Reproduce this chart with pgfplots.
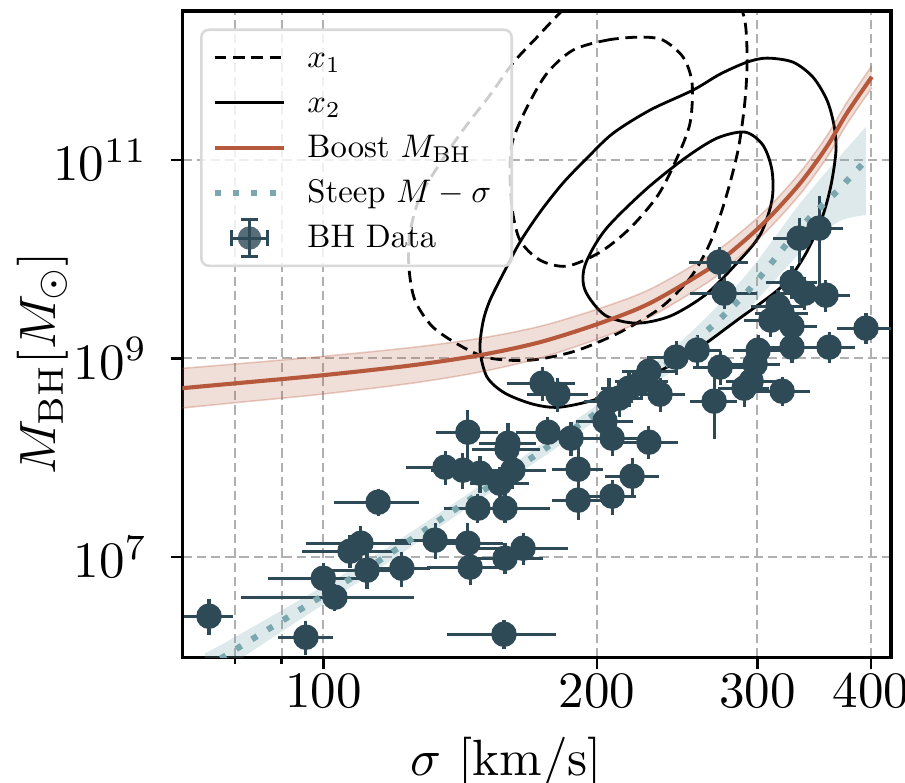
\documentclass[border=0pt]{standalone}
\usepackage{pgfplots}
\pgfplotsset{compat=1.18}
\usepgfplotslibrary{fillbetween}
\definecolor{datac}{HTML}{2E4A56}
\definecolor{boost}{HTML}{B5583B}
\definecolor{steep}{HTML}{7BA7AE}
\definecolor{gridc}{HTML}{B0B0B0}
\newcommand{\legtxt}[1]{\scalebox{0.64}{\strut #1}}
\begin{document}
\begin{tikzpicture}
\begin{axis}[
  scale only axis, width=138.9pt, height=126.7pt,
  xmode=log, ymode=log,
  xmin=70, xmax=420.8, ymin=9.65e5, ymax=3.18e12,
  xtick={100,200,300,400}, xticklabels={$100$,$200$,$300$,$400$},
  minor xtick={80,90},
  ytick={1e7,1e9,1e11}, yminorticks=false,
  grid=both,
  major grid style={gridc, line width=0.4pt, dash pattern=on 1.8pt off 1pt},
  minor grid style={gridc, line width=0.4pt, dash pattern=on 1.8pt off 1pt},
  tick align=outside, tick pos=left,
  major tick length=2.3pt, minor tick length=1.2pt,
  every tick/.style={black, line width=0.5pt},
  axis line style={line width=0.65pt},
  xticklabel style={yshift=2.4pt},
  yticklabel style={xshift=-1pt},
  xlabel={$\sigma\ [\mathrm{km/s}]$},
  ylabel={$M_{\rm BH}[M_\odot]$},
  xlabel style={at={(axis description cs:0.457,-0.162)}, anchor=center},
  ylabel style={at={(axis description cs:-0.1975,0.455)}, anchor=center},
  legend cell align=left,
  legend style={at={(axis description cs:0.025,0.973)}, anchor=north west,
    draw=black!15, line width=0.5pt, rounded corners=1.5pt, fill=white,
    fill opacity=0.8, text opacity=1, font=\normalsize,
    inner xsep=2pt, inner ysep=1.5pt, row sep=0.97pt,
    nodes={inner xsep=2pt, inner ysep=0.5pt}},
  legend image code/.code={\draw[#1] (0pt,0pt) -- (13.7pt,0pt); \path[draw=none] (0pt,-1pt) (16.2pt,1pt);},
]
\addlegendimage{black, line width=0.55pt, dash pattern=on 2.3pt off 1.3pt}
\addlegendentry{\legtxt{$x_1$}}
\addlegendimage{black, line width=0.55pt}
\addlegendentry{\legtxt{$x_2$}}
\addlegendimage{boost, line width=0.8pt}
\addlegendentry{\legtxt{Boost $M_{\rm BH}$}}
\addlegendimage{steep, line width=1.2pt, dash pattern=on 1.2pt off 2.4pt}
\addlegendentry{\legtxt{Steep $M-\sigma$}}
\addlegendimage{legend image code/.code={
  \pgfinterruptboundingbox
  \draw[datac, line width=0.6pt] (6.85pt,-3.6pt)--(6.85pt,3.6pt) (3.25pt,0pt)--(10.45pt,0pt)
   (5.25pt,-3.6pt)--(8.45pt,-3.6pt) (5.25pt,3.6pt)--(8.45pt,3.6pt)
   (3.25pt,-1.6pt)--(3.25pt,1.6pt) (10.45pt,-1.6pt)--(10.45pt,1.6pt);
  \path[fill=datac, draw=none] (6.85pt,0pt) circle (2.3pt);
  \endpgfinterruptboundingbox
  \path[draw=none] (0pt,-1pt) (16.2pt,1pt);}}
\addlegendentry{\legtxt{BH Data}}

% contours x1 (dashed)
\addplot[black, line width=0.55pt, dash pattern=on 2.3pt off 1.3pt, smooth cycle, forget plot] coordinates {
(234.5,1.04e13) (273.0,7.33e12) (289.3,3.03e12) (292.3,1.143e12) (290.8,4.02e11) (285.7,1.259e11) (276.5,3.945e10) (266.1,1.453e10) (253.0,6.45e9) (234.5,3.21e9) (212.0,1.841e9) (189.1,1.184e9) (168.8,9.60e8) (152.5,1.006e9) (142.4,1.299e9) (132.0,2.067e9) (126.1,3.869e9) (124.2,8.32e9) (124.5,1.833e10) (127.7,4.23e10) (134.4,9.31e10) (143.2,2.149e11) (152.5,4.52e11) (161.6,9.49e11) (171.8,1.736e12) (182.0,3.03e12) (201.5,7.33e12)
};
\addplot[black, line width=0.55pt, dash pattern=on 2.3pt off 1.3pt, smooth cycle, forget plot] coordinates {
(188.2,1.284e12) (205.1,1.619e12) (222.9,1.736e12) (236.2,1.619e12) (248.6,1.091e12) (254.3,5.965e11) (253.0,2.357e11) (244.2,9.98e10) (233.3,4.43e10) (217.4,2.058e10) (201.5,1.179e10) (185.3,8.52e9) (173.1,9.79e9) (164.5,1.558e10) (161.2,3.35e10) (160.4,8.48e10) (161.6,1.588e11) (167.5,3.42e11) (176.2,7.52e11)
};
% contours x2 (solid)
\addplot[black, line width=0.55pt, smooth cycle, forget plot] coordinates {
(292.3,9.71e11) (307.4,1.066e12) (328.3,9.71e11) (345.3,6.86e11) (357.8,4.02e11) (364.2,2.250e11) (366.1,1.259e11) (361.5,5.59e10) (353.3,2.596e10) (338.4,1.100e10) (319.4,5.35e9) (285.0,2.431e9) (253.0,1.104e9) (225.8,6.32e8) (201.5,3.98e8) (182.0,3.225e8) (170.1,3.457e8) (158.4,4.46e8) (151.4,6.47e8) (148.7,1.211e9) (149.8,2.320e9) (152.5,3.869e9) (158.4,7.76e9) (164.5,1.487e10) (173.1,2.985e10) (183.4,5.85e10) (195.4,1.070e11) (208.3,1.868e11) (228.6,3.187e11) (254.9,5.07e11) (273.0,7.35e11)
};
\addplot[black, line width=0.55pt, smooth cycle, forget plot] coordinates {
(270.9,1.663e11) (290.8,1.912e11) (304.3,1.414e11) (311.3,7.91e10) (311.3,3.945e10) (302.0,1.750e10) (283.5,8.71e9) (262.8,4.345e9) (240.5,2.668e9) (220.7,2.267e9) (204.0,2.731e9) (194.0,4.88e9) (194.0,8.71e9) (204.0,1.965e10) (225.8,4.97e10) (249.8,1.046e11)
};

% Boost band and line
\addplot[name path=bu, boost, draw opacity=0.3, line width=0.3pt, smooth, forget plot] coordinates {
(70,7.95e8) (80.4,8.82e8) (100,1.050e9) (125.5,1.294e9) (148.7,1.596e9) (173.1,2.108e9) (201.5,3.203e9) (228.6,4.978e9) (263.9,1.047e10) (282.3,1.628e10) (307.2,3.193e10) (334.2,7.48e10) (357.6,1.750e11) (376.2,3.802e11) (400.8,8.89e11)
};
\addplot[name path=bl, boost, draw opacity=0.3, line width=0.3pt, smooth, forget plot] coordinates {
(70,3.163e8) (80.4,3.593e8) (100,4.377e8) (125.5,5.647e8) (148.7,7.296e8) (173.1,1.010e9) (201.5,1.604e9) (228.6,2.614e9) (263.9,5.752e9) (282.3,9.37e9) (307.2,1.925e10) (334.2,4.511e10) (357.6,1.055e11) (376.2,2.292e11) (400.8,5.362e11)
};
\addplot[fill=boost, fill opacity=0.2, draw=none, forget plot] fill between[of=bu and bl];
\addplot[boost, line width=0.8pt, smooth, forget plot] coordinates {
(70,5.013e8) (80.4,5.63e8) (100,6.78e8) (125.5,8.55e8) (148.7,1.079e9) (173.1,1.459e9) (201.5,2.267e9) (228.6,3.607e9) (263.9,7.76e9) (282.3,1.235e10) (307.2,2.479e10) (334.2,5.81e10) (357.6,1.359e11) (376.2,2.952e11) (400.8,6.906e11)
};

% BH data
\addplot[only marks, mark=*, mark size=2.3pt, color=datac, mark options={fill=datac, draw=datac}, forget plot,
  error bars/.cd, x dir=both, x explicit, y dir=both, y explicit,
  error bar style={line width=0.6pt, datac},
  error mark options={line width=0.6pt, mark size=1.75pt, datac}]
table[x=x, y=y, x error=ex, y error=ey] {
x y ex ey
74.9 2.518e6 3.0 5e5
95.7 1.546e6 4.4 3e5
158.0 1.658e6 18 2e5
103.0 3.913e6 20 4e5
100.0 6.08e6 11 1e6
110.0 1.371e7 12 3e6
107.0 1.139e7 10 2e6
111.7 7.33e6 10 1.5e6
114.9 3.553e7 9.7 4e6
122.0 7.67e6 6 1.5e6
132.7 1.471e7 10 3e6
144.2 1.371e7 10 4e6
145.0 7.86e6 12 1.5e6
158.4 9.68e6 12 1.5e6
165.8 1.221e7 16 2e6
147.9 3.091e7 9 4e6
158.4 3.091e7 15 4e6
144.2 1.805e8 8 6.3e7
159.6 1.398e8 8 4e7
136.1 8.01e7 10 1.5e7
142.4 7.47e7 8 1.5e7
148.7 6.97e7 8 1.5e7
156.4 5.52e7 8 1e7
161.6 7.47e7 10 1.5e7
174.0 5.63e8 11 1e8
181.1 4.36e8 10 8e7
159.2 1.216e8 10 2.5e7
176.6 1.805e8 10 3e7
187.2 1.570e8 10 3e7
204.0 2.330e8 10 5e7
207.7 1.570e8 10 3e7
228.0 1.431e8 12 2.5e7
190.6 7.64e7 8 3e7
218.5 6.50e7 10 1.5e7
207.7 4.085e7 8 8e6
190.6 3.722e7 8 8e6
206.1 3.709e8 8 1.5e8
211.4 3.975e8 8 8e7
216.8 5.013e8 10 1e8
224.0 5.90e8 10 1e8
228.0 7.44e8 10 1.2e8
234.5 4.36e8 10 8e7
244.2 1.030e9 12 2e8
257.6 1.211e9 10 2e8
268.9 3.709e8 10 1.8e8
273.0 8.17e8 12 1.5e8
290.1 5.013e8 12 1e8
295.3 5.90e8 12 1e8
298.3 8.76e8 12 1.5e8
300.6 1.211e9 12 2e8
319.4 4.677e8 16 6e7
327.5 1.299e9 12 2e8
359.7 1.299e9 16 2e8
395.0 2.020e9 19.5 3e8
310.5 2.431e9 14 4e8
327.5 2.116e9 14 4e8
319.4 2.860e9 14 5e8
316.1 3.366e9 14 6e8
338.4 4.55e9 14 8e8
327.5 5.88e9 14 1e9
275.8 4.55e9 17 7e8
272.3 9.35e9 14 1.5e9
333.4 1.632e10 14 5e9
350.7 2.058e10 14 1.48e10
356.9 4.345e9 14 7e8
};

% Steep band and line
\addplot[name path=su, draw=none, smooth, forget plot] coordinates {
(74.13,1.063e6) (79.3,1.483e6) (94.3,3.695e6) (115.4,1.111e7) (141.3,3.803e7) (173.1,1.334e8) (206.7,4.253e8) (246.6,1.455e9) (290.1,6.58e9) (334.2,3.659e10) (368.0,1.039e11) (395.0,2.163e11)
};
\addplot[name path=sl, draw=none, smooth, forget plot] coordinates {
(74.13,5.32e5) (79.3,8.15e5) (94.3,2.331e6) (115.4,7.69e6) (141.3,2.755e7) (173.1,9.66e7) (206.7,2.943e8) (246.6,8.38e8) (290.1,2.870e9) (334.2,1.157e10) (368.0,2.382e10) (395.0,2.783e10)
};
\addplot[fill=steep, fill opacity=0.25, draw=none, forget plot] fill between[of=su and sl];
\addplot[steep, line width=1.2pt, dash pattern=on 1.2pt off 2.4pt, smooth, forget plot] coordinates {
(74.13,7.52e5) (79.3,1.099e6) (94.3,2.935e6) (115.4,9.24e6) (141.3,3.237e7) (173.1,1.135e8) (206.7,3.538e8) (246.6,1.104e9) (290.1,4.345e9) (334.2,2.058e10) (368.0,4.975e10) (395.0,9.98e10)
};
\end{axis}
\pgfresetboundingbox
\path[use as bounding box] ([xshift=-35.73pt,yshift=-24.44pt]current axis.south west) rectangle ([xshift=2.74pt,yshift=2.16pt]current axis.north east);
\end{tikzpicture}
\end{document}
